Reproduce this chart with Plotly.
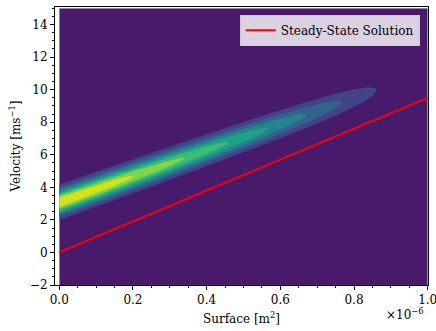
import numpy as np
import plotly.graph_objects as go

# ---------------- data ----------------
# Steady-state solution line (surface [m^2], velocity [m/s])
line_x = [0.0, 1.0e-6]
line_y = [0.0, 9.5]

# Parameters of the density ridge
ridge_v0 = 3.08          # velocity of the ridge at zero surface
ridge_slope = 8.0e6      # ridge slope [ms^-1 per m^2]
ridge_sigma = 0.53       # spread across the ridge [ms^-1]
ridge_peak = 8.0         # peak density at zero surface
ridge_end = 0.95e-6      # surface where the density vanishes
ridge_power = 1.35       # shape of the decay along the ridge

grid_x = np.linspace(0.0, 1.0e-6, 301)
grid_y = np.linspace(-2.0, 15.0, 400)

contour_levels = [1, 2, 3, 4, 5, 6, 7]
band_colors = ["#481a6c", "#414487", "#33638d", "#26828e",
               "#1fa088", "#3dbb74", "#82d34c", "#d5e21a"]

x_ticks = [0.0, 0.2e-6, 0.4e-6, 0.6e-6, 0.8e-6, 1.0e-6]
x_tick_text = ["0.0", "0.2", "0.4", "0.6", "0.8", "1.0"]
y_ticks = [-2, 0, 2, 4, 6, 8, 10, 12, 14]

# ---------------- field ----------------
X, Y = np.meshgrid(grid_x, grid_y)
frac = np.clip(X / ridge_end, 0, 1)
amp = ridge_peak * (1 - frac ** ridge_power)
Z = amp * np.exp(-((Y - (ridge_v0 + ridge_slope * X)) ** 2) / (2 * ridge_sigma ** 2))

n = len(band_colors) - 1
colorscale = [[k / n, c] for k, c in enumerate(band_colors)]

FONT = "DejaVu Serif"

fig = go.Figure()
fig.add_trace(go.Contour(
    x=grid_x, y=grid_y, z=Z,
    autocontour=False,
    contours=dict(start=contour_levels[0], end=contour_levels[-1],
                  size=contour_levels[1] - contour_levels[0], coloring="fill"),
    colorscale=colorscale,
    line=dict(width=0),
    showscale=False,
    showlegend=False,
    hoverinfo="skip",
))
fig.add_trace(go.Scatter(
    x=line_x, y=line_y, mode="lines",
    line=dict(color="#ff0000", width=2),
    name="Steady-State Solution",
))

fig.update_layout(
    width=436, height=331,
    margin=dict(l=55, r=8, t=7, b=46, autoexpand=False),
    paper_bgcolor="white", plot_bgcolor="white",
    font=dict(family=FONT, size=12, color="black"),
    legend=dict(x=0.978, y=0.972, xanchor="right", yanchor="top",
                bgcolor="rgba(255,255,255,0.8)", bordercolor="#cccccc",
                borderwidth=1, font=dict(family=FONT, size=12)),
    showlegend=True,
)
fig.update_xaxes(
    range=[-0.0115e-6, 1.0008e-6],
    tickvals=x_ticks, ticktext=x_tick_text,
    ticklabeloverflow="allow", automargin=False,
    ticks="outside", ticklen=4, tickwidth=1, tickcolor="black",
    minor=dict(dtick=0.05e-6, tick0=0, ticks="outside", ticklen=2, tickcolor="black"),
    showline=True, linecolor="black", linewidth=1, mirror=True,
    showgrid=False, zeroline=False,
    title=dict(text="Surface [m<sup>2</sup>]", standoff=8, font=dict(size=12)),
)
fig.update_yaxes(
    range=[-2, 15.08],
    tickvals=y_ticks,
    ticklabeloverflow="allow", automargin=False,
    ticks="outside", ticklen=4, tickwidth=1, tickcolor="black",
    minor=dict(dtick=0.5, tick0=0, ticks="outside", ticklen=2, tickcolor="black"),
    showline=True, linecolor="black", linewidth=1, mirror=True,
    showgrid=False, zeroline=False,
    title=dict(text="Velocity [ms<sup>−1</sup>]", standoff=6, font=dict(size=12)),
)
fig.add_annotation(
    text="×10<sup>−6</sup>", xref="paper", yref="paper", x=0.995, y=0,
    xanchor="right", yanchor="middle", yshift=-29, showarrow=False,
    font=dict(family=FONT, size=12),
)

fig.write_html("out.html")
